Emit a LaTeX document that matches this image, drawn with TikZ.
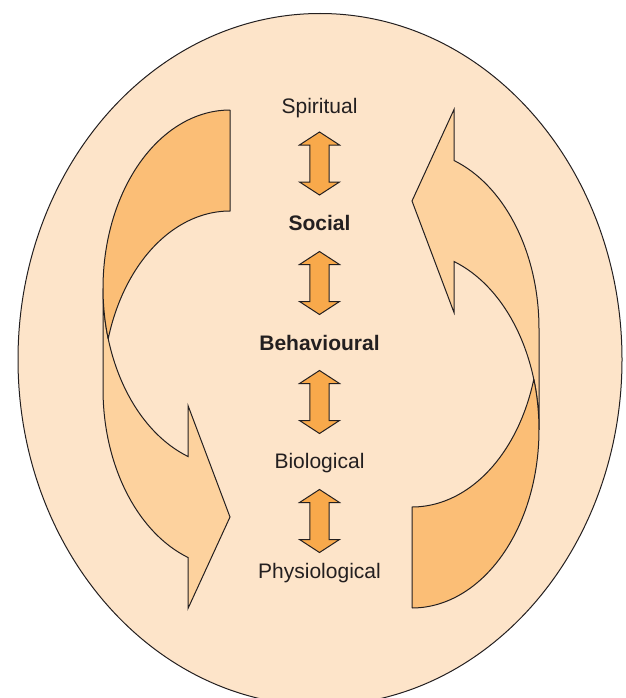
\documentclass[tikz,border=0pt]{standalone}
\usepackage{fontspec}
\setmainfont{Liberation Sans}
\usetikzlibrary{calc}
\definecolor{bgpeach}{RGB}{253,228,201}
\definecolor{banddark}{RGB}{251,190,118}
\definecolor{bandlight}{RGB}{253,210,158}
\definecolor{dblorange}{RGB}{248,169,75}
\definecolor{inkdark}{RGB}{35,31,32}
\tikzset{
  outline/.style={draw=inkdark, line width=1pt, line join=miter},
  lvltext/.style={font=\fontsize{21}{25}\selectfont, text=inkdark, inner sep=0pt, anchor=base},
  lvlbold/.style={lvltext, font=\fontsize{21}{25}\selectfont\bfseries},
  dblarrow/.pic={
    \filldraw[outline, fill=dblorange]
      (0,-31.5) -- (20,-18.5) -- (9.7,-18.5) -- (9.7,18.5) -- (20,18.5) -- (0,31.5)
      -- (-20,18.5) -- (-9.7,18.5) -- (-9.7,-18.5) -- (-20,-18.5) -- cycle;
  }
}
% curved arrow (PowerPoint-like curvedRightArrow), pixel coordinates
\newcommand\drawcurvedarrow{%
  % light band with arrowhead
  \filldraw[outline, fill=bandlight]
    (103,288.25)
    -- plot[domain=0:70.69, samples=50, variable=\t] ({230-127*cos(\t)}, {288.25+178.25*sin(\t)})
    -- (188,405.5) -- (230,517) -- (188,608.5)
    -- plot[domain=70.69:0, samples=50, variable=\t] ({230-127*cos(\t)}, {389.25+178.25*sin(\t)})
    -- cycle;
  % dark back band
  \filldraw[outline, fill=banddark]
    (230,110) -- (230,211)
    -- plot[domain=-90:-16.46, samples=50, variable=\t] ({230-127*cos(\t)}, {389.25+178.25*sin(\t)})
    -- plot[domain=16.46:-90, samples=60, variable=\t] ({230-127*cos(\t)}, {288.25+178.25*sin(\t)})
    -- cycle;
}
\begin{document}
\begin{tikzpicture}[x=1pt, y=-1pt]
  \useasboundingbox (0,0) rectangle (625,698);
  \clip (0,0) rectangle (625,698);
  \filldraw[outline, fill=bgpeach] (320,359.5) ellipse [x radius=302pt, y radius=346pt];
  \begin{scope}
    \drawcurvedarrow
  \end{scope}
  \begin{scope}[rotate around={180:(321,359)}]
    \drawcurvedarrow
  \end{scope}
  \node[lvltext] (spir) at (319.5,113.3) {Spiritual};
  \node[lvlbold] (soc) at (319.5,230.7) {Social};
  \node[lvlbold] (beh) at (319.5,350) {Behavioural};
  \node[lvltext] (bio) at (319.5,468) {Biological};
  \node[lvltext] (phys) at (319.5,578) {Physiological};
  \pic at (319.5,163.5) {dblarrow};
  \pic at (319.5,283) {dblarrow};
  \pic at (319.5,402) {dblarrow};
  \pic at (319.5,521) {dblarrow};
\end{tikzpicture}
\end{document}
